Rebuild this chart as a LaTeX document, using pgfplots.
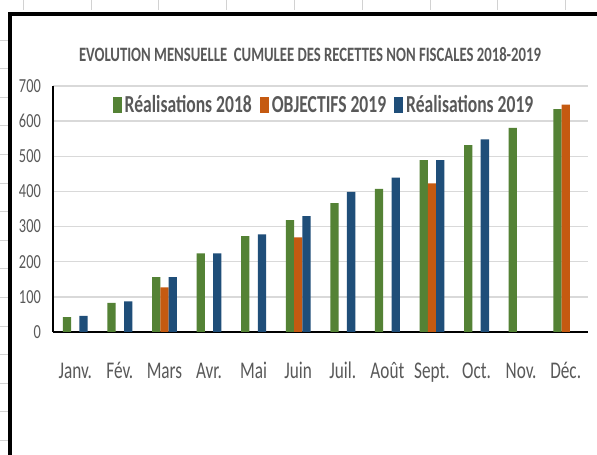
\documentclass[border=0pt]{standalone}
\usepackage{fontspec}
\setmainfont{Carlito}[FakeStretch=0.72]
\usepackage{pgfplots}
\pgfplotsset{compat=1.18}
\definecolor{vert}{HTML}{548235}
\definecolor{orangeobj}{HTML}{C55A11}
\definecolor{bleu}{HTML}{1F4E79}
\definecolor{texte}{HTML}{595959}
\definecolor{grille}{HTML}{D9D9D9}

\begin{document}
\begin{tikzpicture}[x=1bp,y=1bp]
\path[use as bounding box, fill=white] (0,0) rectangle (597,455);
% traits de la feuille
\foreach \k in {0,...,8} \draw[gray!35, line width=0.6bp] (23+67.8*\k,445) -- (23+67.8*\k,455);
\foreach \k in {0,...,14} \draw[gray!35, line width=0.6bp] (0,415-28.6*\k) -- (8,415-28.6*\k);
% cadre
\draw[line width=4bp] (10,0) -- (10,440.5) -- (597,440.5);
% titre
\node[font=\bfseries\fontsize{20.5}{24}\selectfont, text=texte] at (310,400)
  {EVOLUTION MENSUELLE\ \ CUMULEE DES RECETTES NON FISCALES 2018-2019};

\begin{axis}[
    at={(53bp,123bp)}, anchor=south west,
    scale only axis, width=535bp, height=246bp,
    ybar=0pt, bar width=8.3bp,
    xmin=-0.5, xmax=11.5, ymin=0, ymax=700,
    ytick={0,100,...,700},
    xtick={0,...,11},
    xticklabels={Janv.,Fév.,Mars,Avr.,Mai,Juin,Juil.,Août,Sept.,Oct.,Nov.,Déc.},
    major tick length=0pt,
    axis x line*=bottom, axis y line*=left,
    x axis line style={-, line width=2.5bp},
    y axis line style={-, line width=2bp},
    ymajorgrids, major grid style={grille, line width=1.5bp},
    /pgf/number format/assume math mode=true,
    yticklabel style={font=\fontsize{20}{24}\selectfont, text=texte, anchor=east, inner sep=0pt, xshift=-12bp},
    xticklabel style={font=\fontsize{24}{28}\selectfont, text=texte, anchor=base, yshift=-47bp},
    legend columns=3,
    legend image code/.code={\fill[#1] (0bp,-8bp) rectangle (9bp,8bp);},
    legend style={at={(0.5056,0.9228)}, anchor=center, draw=none, fill=none,
      font=\bfseries\fontsize{24.5}{28}\selectfont, text=texte,
      nodes={inner sep=1bp},
      /tikz/every odd column/.append style={column sep=2bp},
      /tikz/every even column/.append style={column sep=7bp}},
]
\addplot[fill=vert, draw=none] coordinates {
    (0,42)(1,83)(2,156)(3,224)(4,273)(5,318)(6,367)(7,407)(8,489)(9,532)(10,581)(11,634)
};
\addlegendentry{Réalisations 2018}
\addplot[fill=orangeobj, draw=none] coordinates {
    (2,127)(5,269)(8,423)(11,647)
};
\addlegendentry{OBJECTIFS 2019}
\addplot[fill=bleu, draw=none] coordinates {
    (0,46)(1,87)(2,156)(3,224)(4,278)(5,330)(6,399)(7,439)(8,489)(9,548)
};
\addlegendentry{Réalisations 2019}
\end{axis}
\end{tikzpicture}
\end{document}
